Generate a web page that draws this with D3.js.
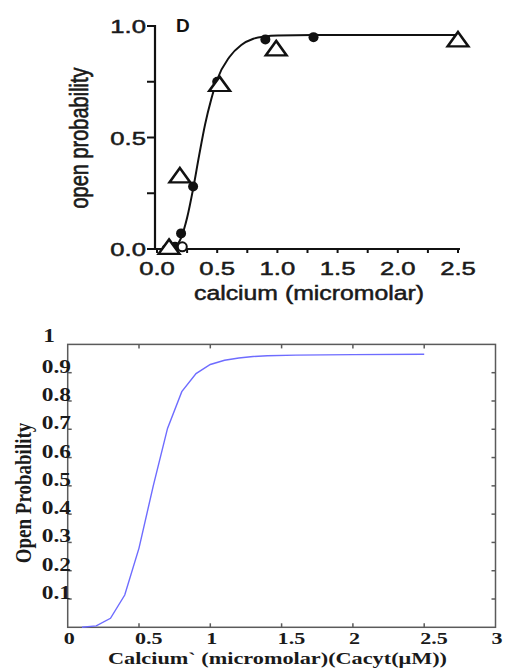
<!DOCTYPE html>
<html>
<head>
<meta charset="utf-8">
<script src="https://cdn.jsdelivr.net/npm/d3@7"></script>
<style>
  body { margin: 0; background: #fff; }
  svg { display: block; }
</style>
</head>
<body>
<svg id="drawing_region"></svg>
<script>
// ---- top panel (scanned figure D) ----
const topXTicks = [0.0, 0.5, 1.0, 1.5, 2.0, 2.5];
const topXMinor = [0.25, 0.75, 1.25, 1.75, 2.25];
const topYTicks = [0.0, 0.5, 1.0];
const topYMinor = [0.25, 0.75];

// filled circles
const dotX = [0.08, 0.12, 0.15, 0.2, 0.3, 0.5, 0.9, 1.3];
const dotY = [0.0, 0.0, 0.01, 0.07, 0.28, 0.75, 0.94, 0.95];
// open circle
const ringX = [0.21];
const ringY = [0.01];
// open triangles
const triX = [0.1, 0.19, 0.52, 0.99, 2.5];
const triY = [0.0, 0.32, 0.73, 0.89, 0.93];
// fitted curve
const fitX = [0.1, 0.15, 0.2, 0.25, 0.3, 0.35, 0.4, 0.45, 0.5, 0.6, 0.7, 0.8, 0.9, 1.0, 1.3, 2.5];
const fitY = [0.0, 0.01, 0.05, 0.14, 0.27, 0.42, 0.56, 0.67, 0.76, 0.86, 0.915, 0.943, 0.953, 0.957, 0.96, 0.96];

// ---- bottom panel (model curve) ----
const botXTicks = [0, 0.5, 1, 1.5, 2, 2.5, 3];
const botYTicks = [0.1, 0.2, 0.3, 0.4, 0.5, 0.6, 0.7, 0.8, 0.9, 1];
const modelX = [0.1, 0.2, 0.3, 0.4, 0.5, 0.6, 0.7, 0.8, 0.9, 1.0, 1.1, 1.2, 1.3, 1.4, 1.6, 2.0, 2.5];
const modelY = [0.0, 0.005, 0.032, 0.114, 0.28, 0.5, 0.703, 0.833, 0.897, 0.929, 0.944, 0.952, 0.957, 0.96, 0.962, 0.964, 0.965];

const svg = d3.select('#drawing_region')
    .attr('width', 506)
    .attr('height', 670);

// ================= TOP =================
const topFont = "'Liberation Sans', Arial, Helvetica, sans-serif";
const tx = d3.scaleLinear().domain([0, 2.5]).range([157, 458]);
const ty = d3.scaleLinear().domain([0, 1]).range([249, 26]);
const topG = svg.append('g');

// axis lines
topG.append('line')
    .attr('x1', 155).attr('x2', 155)
    .attr('y1', ty(1) - 1).attr('y2', ty(0) + 1)
    .attr('stroke', '#111').attr('stroke-width', 2.2);
topG.append('line')
    .attr('x1', 151).attr('x2', tx(2.5) + 2)
    .attr('y1', ty(0)).attr('y2', ty(0))
    .attr('stroke', '#111').attr('stroke-width', 2.2);

// y ticks
topG.selectAll('.ytick')
    .data(topYTicks.concat(topYMinor))
    .enter().append('line')
    .attr('x1', 147).attr('x2', 155)
    .attr('y1', d => ty(d)).attr('y2', d => ty(d))
    .attr('stroke', '#111').attr('stroke-width', 2);
topG.selectAll('.ylab')
    .data(topYTicks)
    .enter().append('text')
    .attr('transform', d => `translate(146, ${ty(d) + 7}) scale(1.35,1)`)
    .attr('text-anchor', 'end')
    .attr('font-family', topFont)
    .attr('font-size', 19)
    .attr('fill', '#1a1a1a')
    .attr('stroke', '#1a1a1a').attr('stroke-width', 0.5)
    .text(d => d3.format('.1f')(d));

// x ticks
topG.selectAll('.xtick')
    .data(topXTicks.concat(topXMinor))
    .enter().append('line')
    .attr('x1', d => tx(d)).attr('x2', d => tx(d))
    .attr('y1', ty(0)).attr('y2', ty(0) + 4)
    .attr('stroke', '#111').attr('stroke-width', 2);
topG.selectAll('.xlab')
    .data(topXTicks)
    .enter().append('text')
    .attr('transform', d => `translate(${tx(d)}, 275) scale(1.35,1)`)
    .attr('text-anchor', 'middle')
    .attr('font-family', topFont)
    .attr('font-size', 19)
    .attr('fill', '#1a1a1a')
    .attr('stroke', '#1a1a1a').attr('stroke-width', 0.5)
    .text(d => d3.format('.1f')(d));

// axis titles
topG.append('text')
    .attr('x', 309).attr('y', 300)
    .attr('text-anchor', 'middle')
    .attr('font-family', topFont)
    .attr('font-size', 20)
    .attr('textLength', 230).attr('lengthAdjust', 'spacingAndGlyphs')
    .attr('fill', '#1a1a1a')
    .attr('stroke', '#1a1a1a').attr('stroke-width', 0.5)
    .text('calcium (micromolar)');
topG.append('text')
    .attr('transform', 'translate(88, 138) scale(1.3,1) rotate(-90)')
    .attr('text-anchor', 'middle')
    .attr('font-family', topFont)
    .attr('font-size', 20)
    .attr('fill', '#1a1a1a')
    .attr('stroke', '#1a1a1a').attr('stroke-width', 0.5)
    .text('open probability');
topG.append('text')
    .attr('x', 176).attr('y', 32)
    .attr('font-family', topFont)
    .attr('font-size', 19)
    .attr('font-weight', 'bold')
    .attr('fill', '#111')
    .text('D');

// fitted curve
const fitLine = d3.line()
    .x(d => tx(d[0]))
    .y(d => ty(d[1]))
    .curve(d3.curveMonotoneX);
topG.append('path')
    .datum(fitX.map((x, i) => [x, fitY[i]]))
    .attr('d', fitLine)
    .attr('fill', 'none')
    .attr('stroke', '#111')
    .attr('stroke-width', 2);

// markers
topG.selectAll('.dot')
    .data(dotX.map((x, i) => [x, dotY[i]]))
    .enter().append('circle')
    .attr('cx', d => tx(d[0])).attr('cy', d => ty(d[1]))
    .attr('r', 5)
    .attr('fill', '#111');
topG.selectAll('.ring')
    .data(ringX.map((x, i) => [x, ringY[i]]))
    .enter().append('circle')
    .attr('cx', d => tx(d[0])).attr('cy', d => ty(d[1]))
    .attr('r', 4.5)
    .attr('fill', '#fff')
    .attr('stroke', '#111').attr('stroke-width', 2);
const tri = d3.symbol().type(d3.symbolTriangle).size(120);
topG.selectAll('.tri')
    .data(triX.map((x, i) => [x, triY[i]]))
    .enter().append('path')
    .attr('d', tri)
    .attr('transform', d => `translate(${tx(d[0])}, ${ty(d[1])}) scale(1.25,1)`)
    .attr('fill', '#fff')
    .attr('stroke', '#111').attr('stroke-width', 2.2);

// ================= BOTTOM =================
const botFont = "'Liberation Serif', 'Times New Roman', Times, serif";
const bx = d3.scaleLinear().domain([0, 3]).range([67.7, 495.5]);
const by = d3.scaleLinear().domain([0, 1]).range([627.3, 344.4]);
const botG = svg.append('g');

botG.append('rect')
    .attr('x', bx(0)).attr('y', by(1))
    .attr('width', bx(3) - bx(0)).attr('height', by(0) - by(1))
    .attr('fill', 'none')
    .attr('stroke', '#5a5a5a').attr('stroke-width', 1.5);

// inward ticks on all four sides
const inner = botXTicks.slice(1, -1);
botG.selectAll('.bxt')
    .data(inner)
    .enter().append('line')
    .attr('x1', d => bx(d)).attr('x2', d => bx(d))
    .attr('y1', by(0)).attr('y2', by(0) - 4)
    .attr('stroke', '#5a5a5a').attr('stroke-width', 1.5);
botG.selectAll('.bxt2')
    .data(inner)
    .enter().append('line')
    .attr('x1', d => bx(d)).attr('x2', d => bx(d))
    .attr('y1', by(1)).attr('y2', by(1) + 4)
    .attr('stroke', '#5a5a5a').attr('stroke-width', 1.5);
const innerY = botYTicks.slice(0, -1);
botG.selectAll('.byt')
    .data(innerY)
    .enter().append('line')
    .attr('x1', bx(0)).attr('x2', bx(0) + 4)
    .attr('y1', d => by(d)).attr('y2', d => by(d))
    .attr('stroke', '#5a5a5a').attr('stroke-width', 1.5);
botG.selectAll('.byt2')
    .data(innerY)
    .enter().append('line')
    .attr('x1', bx(3)).attr('x2', bx(3) - 4)
    .attr('y1', d => by(d)).attr('y2', d => by(d))
    .attr('stroke', '#5a5a5a').attr('stroke-width', 1.5);

// tick labels
botG.selectAll('.bylab')
    .data(botYTicks)
    .enter().append('text')
    .attr('transform', d => d === 1
        ? `translate(49, ${by(d) - 2}) scale(1.3,1)`
        : `translate(71, ${by(d)}) scale(1.3,1)`)
    .attr('text-anchor', d => d === 1 ? 'middle' : 'end')
    .attr('font-family', botFont)
    .attr('font-weight', 'bold')
    .attr('font-size', 18)
    .attr('fill', '#1a1a1a')
    .text(d => d === 1 ? '1' : d3.format('.1f')(d));
botG.selectAll('.bxlab')
    .data(botXTicks)
    .enter().append('text')
    .attr('transform', d => `translate(${bx(d) - 4}, 644) scale(1.3,1)`)
    .attr('text-anchor', 'start')
    .attr('font-family', botFont)
    .attr('font-weight', 'bold')
    .attr('font-size', 17)
    .attr('fill', '#1a1a1a')
    .text(d => d === 0 ? '0' : String(d));

// axis titles
botG.append('text')
    .attr('x', 277.5).attr('y', 664)
    .attr('text-anchor', 'middle')
    .attr('font-family', botFont)
    .attr('font-weight', 'bold')
    .attr('font-size', 17)
    .attr('textLength', 339).attr('lengthAdjust', 'spacingAndGlyphs')
    .attr('fill', '#1a1a1a')
    .text('Calcium` (micromolar)(Cacyt(\u03bcM))');
botG.append('text')
    .attr('transform', 'translate(31, 493) scale(1.25,1) rotate(-90)')
    .attr('text-anchor', 'middle')
    .attr('font-family', botFont)
    .attr('font-weight', 'bold')
    .attr('font-size', 19)
    .attr('fill', '#1a1a1a')
    .text('Open Probability');

// model line
const modelLine = d3.line()
    .x(d => bx(d[0]))
    .y(d => by(d[1]));
botG.append('path')
    .datum(modelX.map((x, i) => [x, modelY[i]]))
    .attr('d', modelLine)
    .attr('fill', 'none')
    .attr('stroke', '#6e6cff')
    .attr('stroke-width', 1.4);
</script>
</body>
</html>
